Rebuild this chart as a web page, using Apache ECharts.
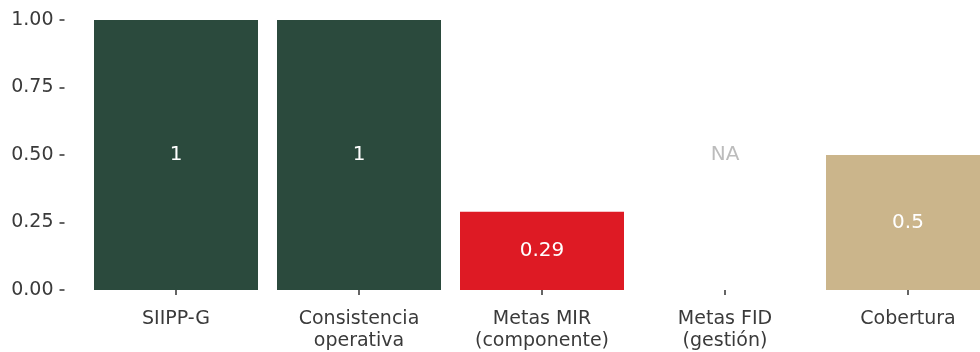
<!DOCTYPE html>
<html><head><meta charset="utf-8">
<script src="https://cdn.jsdelivr.net/npm/echarts@6/dist/echarts.min.js"></script>
<style>html,body{margin:0;padding:0;background:#fff}#c{width:980px;height:352px}</style>
</head><body><div id="c"></div>
<script>
const categories = ['SIIPP-G', 'Consistencia\noperativa', 'Metas MIR\n(componente)', 'Metas FID\n(gestión)', 'Cobertura'];
const values = [1, 1, 0.29, null, 0.5];
const barColors = ['#2b4a3d', '#2b4a3d', '#de1a24', '#2b4a3d', '#cbb58b'];
const naPositions = [null, null, null, 0.5, null];
const yTicks = [0, 0.25, 0.5, 0.75, 1];

const FONT = 'DejaVu Sans';
const chart = echarts.init(document.getElementById('c'), null, {renderer: 'canvas'});
chart.setOption({
  animation: false,
  backgroundColor: '#fff',
  grid: {left: 84.5, width: 915, top: 20, height: 270, containLabel: false, outerBoundsMode: 'none'},
  xAxis: {
    type: 'category', data: categories, offset: 13,
    axisLine: {show: false},
    axisTick: {show: true, alignWithLabel: true, length: 5, lineStyle: {color: '#333', width: 1.5}},
    axisLabel: {color: '#3a3a3a', fontFamily: FONT, fontSize: 19, margin: 5, lineHeight: 22, interval: 0}
  },
  yAxis: {
    type: 'value', min: 0, max: 1, interval: 0.25, offset: 20,
    splitLine: {show: false},
    axisLine: {show: false},
    axisTick: {show: true, length: 5, lineStyle: {color: '#333', width: 1.5}},
    axisLabel: {color: '#3a3a3a', fontFamily: FONT, fontSize: 19, margin: 11,
      formatter: v => v.toFixed(2)}
  },
  series: [{
    type: 'bar',
    data: values.map((v, i) => ({value: v, itemStyle: {color: barColors[i]}})),
    barWidth: 164,
    label: {show: true, position: 'inside', color: '#fff', fontFamily: FONT, fontSize: 20,
      formatter: p => String(p.value)}
  }, {
    type: 'scatter',
    data: naPositions,
    symbolSize: 0,
    label: {show: true, position: 'inside', color: '#ababab', fontFamily: FONT, fontSize: 20, formatter: 'NA'}
  }]
});
</script></body></html>
